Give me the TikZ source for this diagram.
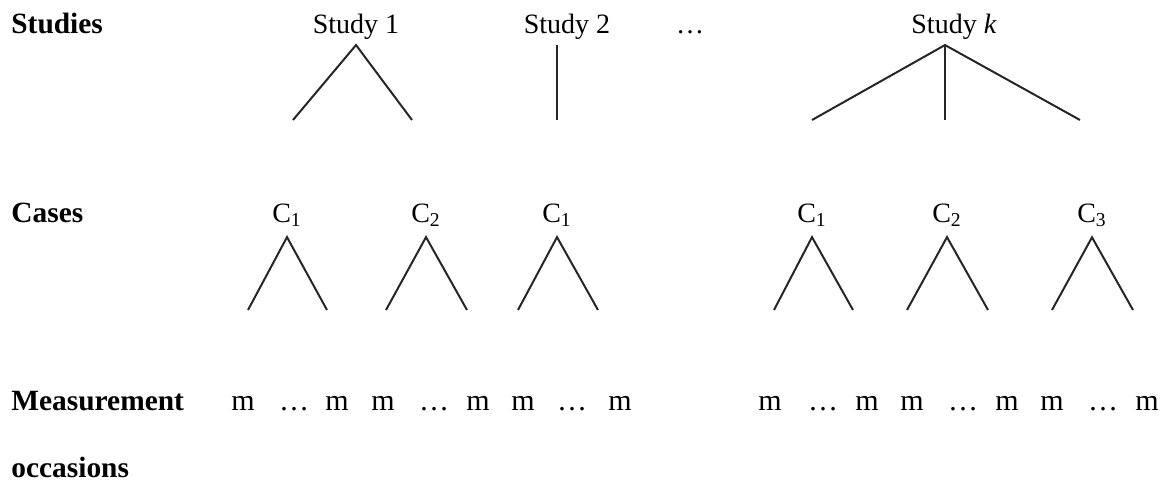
\documentclass[tikz,border=0pt]{standalone}
\usepackage{fontspec}
\setmainfont{Liberation Serif}
\begin{document}
\begin{tikzpicture}[x=0.5pt,y=-0.5pt,
  txt/.style={font=\fontsize{14}{16}\selectfont,inner sep=0pt,anchor=base},
  head/.style={txt,font=\fontsize{14.7}{16}\selectfont\bfseries,anchor=base west},
  study/.style={txt,outer sep=3pt},
  case/.style={txt,outer sep=5.4pt},
  meas/.style={txt,font=\fontsize{15}{16}\selectfont},
  branch/.style={line width=1pt,black!85}]
  \useasboundingbox (0,0) rectangle (1167,483);
  % row labels
  \node[head] (hstud) at (11,33) {Studies};
  \node[head] (hcase) at (11,222) {Cases};
  \node[head] (hmeas) at (11,410) {Measurement};
  \node[head] (hocc) at (11,477) {occasions};
  % studies
  \node[study] (s1) at (356,33) {Study 1};
  \coordinate (s1l) at (293,120);
  \coordinate (s1r) at (412,120);
  \draw[branch] (s1l) -- (s1.south) -- (s1r);
  \node[study] (s2) at (567,33) {Study 2};
  \coordinate (s2b) at (557,120);
  \draw[branch] (s2.south -| s2b) -- (s2b);
  \node[txt] (sdots) at (690,33) {…};
  \node[study] (sk) at (954,33) {Study \textit{k}};
  \coordinate (skl) at (812,120);
  \coordinate (skm) at (945,120);
  \coordinate (skr) at (1080,120);
  \draw[branch] (skl) -- (sk.south -| skm) -- (skr);
  \draw[branch] (sk.south -| skm) -- (skm);
  % cases
  \foreach \n/\x/\s/\l/\r in {a/287/1/248/327,b/426/2/386/467,c/557/1/518/598,d/812/1/774/853,e/947/2/907/988,f/1092/3/1052/1133}{
    \node[case] (c\n) at (\x,222) {C\textsubscript{\s}};
    \coordinate (cl\n) at (\l,310);
    \coordinate (cr\n) at (\r,310);
    \draw[branch] (cl\n) -- (c\n.south) -- (cr\n);
  }
  % measurement occasions
  \foreach \x [count=\i] in {243,337,383,478,523,620,770,867,912,1007,1052,1147}
    \node[meas] (m\i) at (\x,410) {m};
  \foreach \x [count=\i] in {294,434,572,823,963,1103}
    \node[meas] (md\i) at (\x,410) {…};
\end{tikzpicture}
\end{document}
